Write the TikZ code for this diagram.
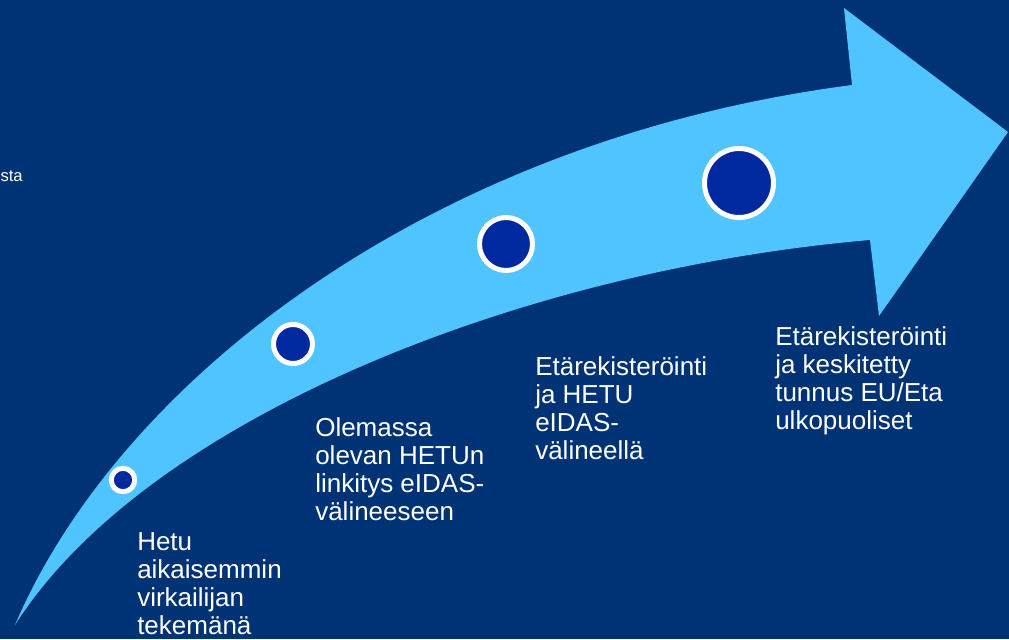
\documentclass[tikz,border=0pt]{standalone}
\usepackage{fontspec}
\setmainfont{Liberation Sans}
\usepackage{tikz}
\usetikzlibrary{positioning, calc}
\definecolor{slidenavy}{RGB}{0, 51, 118}
\definecolor{arrowblue}{RGB}{80, 196, 255}
\definecolor{dotblue}{RGB}{0, 41, 160}

\tikzset{
  milestone/.style={circle, draw=white, line width=3.75pt, fill=dotblue, inner sep=0pt},
  stagetext/.style={text=white, anchor=base west, inner sep=0pt, align=left,
    font=\fontsize{19.5}{21}\selectfont}
}

\begin{document}
\begin{tikzpicture}[x=0.75pt, y=-0.75pt]
  % background
  \fill[slidenavy] (0,0) rectangle (1009,639);

  % curved arrow
  \fill[arrowblue] (15,625) .. controls (120,380) and (430,140) .. (852,85)
    -- (844,8) -- (1008,132) -- (879,316) -- (870,240)
    .. controls (520,270) and (145,420) .. (15,625) -- cycle;

  % milestones along the arrow
  \node[milestone, minimum size=17.6pt] (m1) at (123,480) {};
  \node[milestone, minimum size=29.25pt] (m2) at (293,344) {};
  \node[milestone, minimum size=39.75pt] (m3) at (506,244) {};
  \node[milestone, minimum size=51.75pt] (m4) at (739,183) {};

  % stage texts (base = last line)
  \node[stagetext] (t1) at (137,634) {Hetu\\aikaisemmin\\virkailijan\\tekemänä};
  \node[stagetext] (t2) at (315,520) {Olemassa\\olevan HETUn\\linkitys eIDAS-\\välineeseen};
  \node[stagetext] (t3) at (535,459) {Etärekisteröinti\\ja HETU\\eIDAS-\\välineellä};
  \node[stagetext] (t4) at (775,429) {Etärekisteröinti\\ja keskitetty\\tunnus EU/Eta\\ulkopuoliset};

  % cut-off text at the left edge
  \node[text=white, anchor=base east, inner sep=0pt, font=\fontsize{12.5}{14}\selectfont] (cut) at (23,181) {sta};
\end{tikzpicture}
\end{document}
